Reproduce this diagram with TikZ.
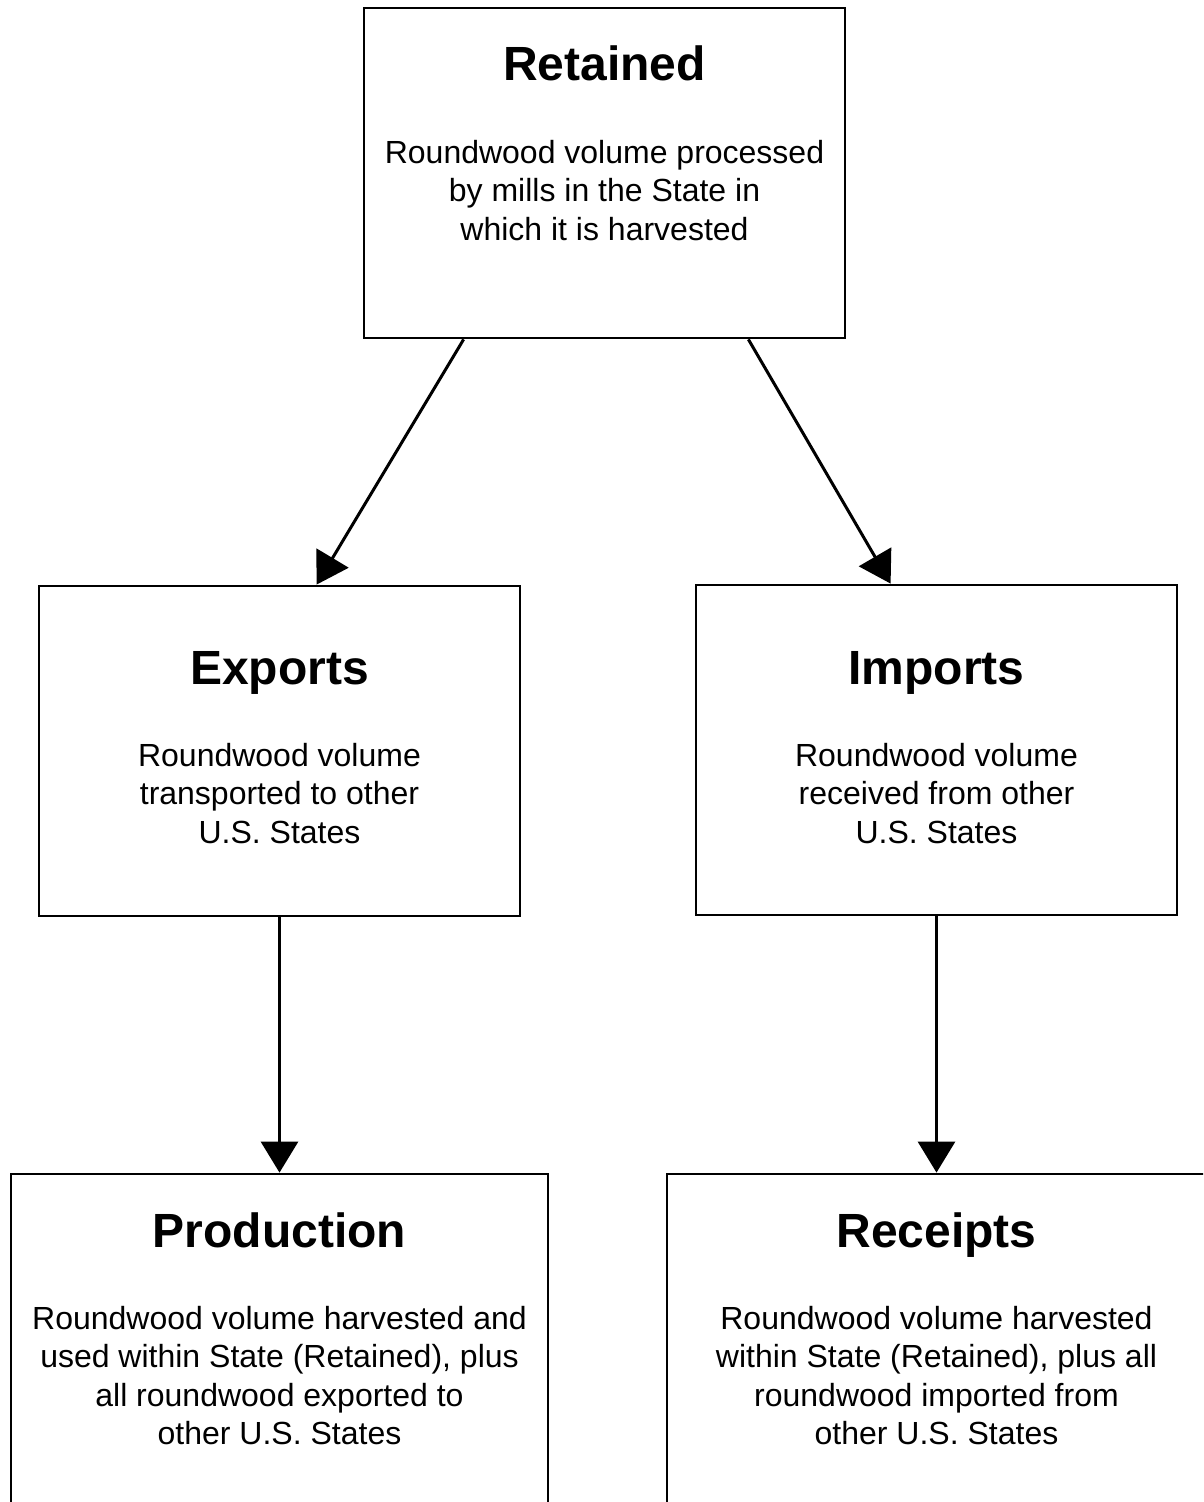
\documentclass[tikz,border=0pt]{standalone}
\usepackage{fontspec}
\setmainfont{Liberation Sans}
\usetikzlibrary{arrows.meta,calc}
\begin{document}
\begin{tikzpicture}[x=1pt,y=-1pt,
  box/.style={draw,line width=2.8pt,inner sep=0pt,rectangle},
  ttl/.style={font=\fontsize{48}{56}\selectfont\bfseries,inner sep=0pt},
  bdy/.style={font=\fontsize{32}{38.5}\selectfont,align=center,inner sep=0pt},
  arr/.style={line width=3pt,-{Triangle[length=31pt,width=37pt]}}]
\useasboundingbox (0,0) rectangle (1203,1502);
\clip (0,0) rectangle (1203,1502);
% boxes
\node[box,minimum width=481pt,minimum height=330pt] (ret) at (604.5,173) {};
\node[box,minimum width=481pt,minimum height=330pt] (exp) at (279.5,751) {};
\node[box,minimum width=481pt,minimum height=330pt] (imp) at (936.5,750) {};
\node[box,minimum width=537pt,minimum height=426pt] (prod) at (279.5,1387) {};
\node[box,minimum width=583pt,minimum height=426pt] (rec) at (958.5,1387) {};
% texts (base anchor = baseline of last line)
\node[ttl,anchor=base] (rett) at (604.5,80) {Retained};
\node[bdy,anchor=base] (retb) at (604.5,240) {Roundwood volume processed\\by mills in the State in\\which it is harvested};
\node[ttl,anchor=base] (expt) at (279.5,684) {Exports};
\node[bdy,anchor=base] (expb) at (279.5,843) {Roundwood volume\\transported to other\\U.S. States};
\node[ttl,anchor=base] (impt) at (936.5,684) {Imports};
\node[bdy,anchor=base] (impb) at (936.5,843) {Roundwood volume\\received from other\\U.S. States};
\node[ttl,anchor=base] (prodt) at (279.5,1247) {Production};
\node[bdy,anchor=base] (prodb) at (279.5,1444.5) {Roundwood volume harvested and\\used within State (Retained), plus\\all roundwood exported to\\other U.S. States};
\node[ttl,anchor=base] (rect) at (936.5,1247) {Receipts};
\node[bdy,anchor=base] (recb) at (936.5,1444.5) {Roundwood volume harvested\\within State (Retained), plus all\\roundwood imported from\\other U.S. States};
% connectors
\draw[arr] ($(ret.south west)+(101,0)$) -- ($(exp.north west)+(279,0)$);
\draw[arr] ($(ret.south east)+(-98,0)$) -- ($(imp.north west)+(196,0)$);
\draw[arr] (exp.south) -- (exp.south |- prod.north);
\draw[arr] (imp.south) -- (imp.south |- rec.north);
\end{tikzpicture}
\end{document}
